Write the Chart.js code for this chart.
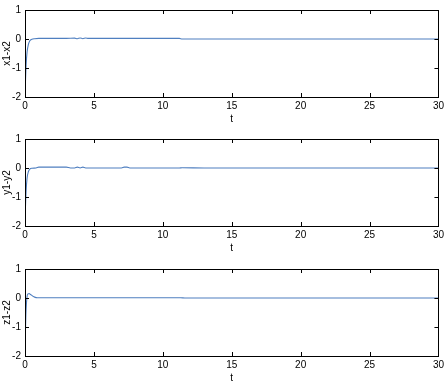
<!DOCTYPE html>
<html>
<head>
<meta charset="utf-8">
<script src="https://cdn.jsdelivr.net/npm/chart.js@4.4.0/dist/chart.umd.min.js"></script>
<style>
html,body{margin:0;padding:0;background:#fff;overflow:hidden;}
.panel{position:absolute;left:0;width:447px;height:130px;}
</style>
</head>
<body>
<div class="panel" style="top:0px"><canvas id="c1"></canvas></div>
<div class="panel" style="top:129px"><canvas id="c2"></canvas></div>
<div class="panel" style="top:259px"><canvas id="c3"></canvas></div>
<script>
const panelLabels = ['x1-x2', 'y1-y2', 'z1-z2'];
const xTicks = [0, 5, 10, 15, 20, 25, 30];
const yTicks = [-2, -1, 0, 1];

const t1 = [0, 0.03, 0.08, 0.15, 0.25, 0.35, 0.5, 0.7, 1, 2, 3, 3.6, 3.8, 4.0, 4.2, 4.4, 4.6, 5, 7, 9, 11.2, 11.4, 13, 20, 25, 30];
const e1 = [-2, -1.5, -0.9, -0.45, -0.18, -0.06, -0.01, 0.01, 0.02, 0.02, 0.02, 0.03, 0.01, 0.035, 0.01, 0.035, 0.02, 0.02, 0.02, 0.02, 0.02, 0.0, 0.0, 0.0, 0.0, 0.0];

const t2 = [0, 0.03, 0.08, 0.15, 0.25, 0.35, 0.5, 0.8, 1, 2, 3, 3.3, 3.6, 3.8, 4.0, 4.2, 4.4, 5, 7, 7.2, 7.4, 7.6, 9, 11.2, 11.4, 13, 20, 25, 30];
const e2 = [-2, -1.4, -0.8, -0.35, -0.12, -0.04, -0.01, 0.0, 0.03, 0.03, 0.03, 0.0, 0.0, 0.03, 0.0, 0.03, 0.0, 0.0, 0.0, 0.03, 0.03, 0.0, 0.0, 0.0, 0.01, 0.0, 0.0, 0.0, 0.0];

const t3 = [0, 0.03, 0.08, 0.15, 0.22, 0.3, 0.4, 0.55, 0.7, 0.9, 2, 5, 11.3, 11.6, 15, 20, 25, 30];
const e3 = [-2, -1.2, -0.4, 0.05, 0.14, 0.15, 0.12, 0.07, 0.03, 0.01, 0.01, 0.01, 0.01, 0.0, 0.0, 0.0, 0.0, 0.0];

const series = [[t1, e1], [t2, e2], [t3, e3]];

const boxPlugin = {
  id: 'box',
  afterDraw(chart) {
    const {ctx, chartArea: a, scales} = chart;
    ctx.save();
    ctx.strokeStyle = '#000';
    ctx.lineWidth = 1;
    ctx.strokeRect(Math.round(a.left) + 0.5, Math.round(a.top) + 0.5, Math.round(a.right - a.left), Math.round(a.bottom - a.top));
    const tl = 4;
    ctx.beginPath();
    xTicks.forEach(v => {
      const x = Math.round(scales.x.getPixelForValue(v)) + 0.5;
      ctx.moveTo(x, a.bottom); ctx.lineTo(x, a.bottom - tl);
      ctx.moveTo(x, a.top); ctx.lineTo(x, a.top + tl);
    });
    yTicks.forEach(v => {
      const y = Math.round(scales.y.getPixelForValue(v)) + 0.5;
      ctx.moveTo(a.left, y); ctx.lineTo(a.left + tl, y);
      ctx.moveTo(a.right, y); ctx.lineTo(a.right - tl, y);
    });
    ctx.stroke();
    ctx.restore();
  }
};

const font = {family: 'Liberation Sans, Arial, sans-serif', size: 10};

series.forEach(([tArr, vArr], i) => {
  new Chart(document.getElementById('c' + (i + 1)), {
    type: 'line',
    data: {
      datasets: [{
        data: tArr.map((t, k) => ({x: t, y: vArr[k]})),
        borderColor: '#4f7fc0',
        borderWidth: 1.1,
        pointRadius: 0,
        cubicInterpolationMode: 'monotone',
        fill: false
      }]
    },
    options: {
      responsive: true,
      maintainAspectRatio: false,
      animation: false,
      events: [],
      layout: {padding: {top: 7, right: 7, left: 0, bottom: 0}},
      plugins: {legend: {display: false}, tooltip: {enabled: false}},
      scales: {
        x: {
          type: 'linear', min: 0, max: 30,
          afterBuildTicks: s => { s.ticks = xTicks.map(v => ({value: v})); },
          afterFit: s => { s.height = 33; },
          grid: {display: false, drawTicks: false},
          border: {display: false},
          ticks: {color: '#000', font, padding: 3, maxRotation: 0},
          title: {display: true, text: 't', color: '#000', font, padding: {top: 0, bottom: 5}}
        },
        y: {
          type: 'linear', min: -2, max: 1,
          afterBuildTicks: s => { s.ticks = yTicks.map(v => ({value: v})); },
          afterFit: s => { s.width = 25; },
          grid: {display: false, drawTicks: false},
          border: {display: false},
          ticks: {color: '#000', font, padding: 4},
          title: {display: true, text: panelLabels[i], color: '#000', font, padding: {top: 1, bottom: 0}}
        }
      }
    },
    plugins: [boxPlugin]
  });
});
</script>
</body>
</html>
